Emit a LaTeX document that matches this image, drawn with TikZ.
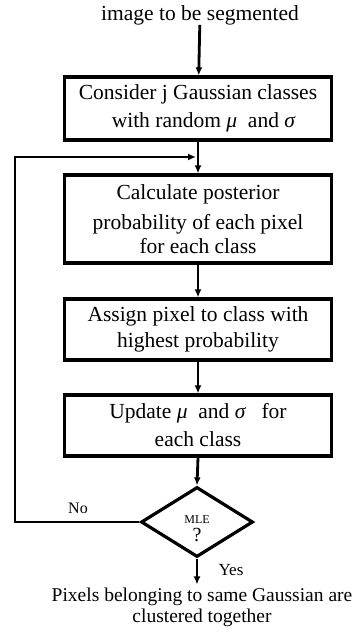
\documentclass[tikz,border=0pt]{standalone}
\usepackage{fontspec}
\setmainfont{Liberation Serif}
\usetikzlibrary{arrows.meta, shapes.geometric, positioning}

\begin{document}
\begin{tikzpicture}[
  x=1pt, y=1pt,
  stepbox/.style={draw, line width=3.2pt, minimum width=267pt, align=center,
    inner sep=0pt, font=\fontsize{21.5}{28}\selectfont},
  flow/.style={-{Latex[length=8pt,width=7pt]}, line width=2.8pt},
  txt/.style={align=center, inner sep=0pt},
]
  \useasboundingbox (0,0) rectangle (356,-634);

  % 输入
  \node[txt, font=\fontsize{21.5}{28}\selectfont] (title) at (200,-15) {image to be segmented};

  % 步骤框
  \node[stepbox, minimum height=63pt] (init) at (198,-108.5)
    {Consider j Gaussian classes\\ \ \ with random {\itshape μ}\ \ and {\itshape σ}};
  \node[stepbox, minimum height=88pt] (post) at (198,-219)
    {Calculate posterior\\[2pt] probability of each pixel\\[-4pt] for each class};
  \node[stepbox, minimum height=61pt] (assign) at (198,-329.5)
    {Assign pixel to class with\\[-2pt] highest probability};
  \node[stepbox, minimum height=61pt] (update) at (198,-425.5)
    {Update {\itshape μ}\ \ and {\itshape σ}\ \ \ for\\ each class};

  % 判断
  \node[diamond, draw, line width=3.2pt, minimum width=112pt, minimum height=70pt,
    inner sep=0pt] (mle) at (197,-522) {};
  \node[txt] (mletxt) at (197,-529)
    {{\fontsize{12}{12}\selectfont MLE}\\[4pt]{\fontsize{20}{20}\selectfont ?}};

  % 输出
  \node[txt, font=\fontsize{19.5}{21}\selectfont] (result) at (202,-607)
    {Pixels belonging\ to same Gaussian are\\ clustered together};

  % 循环回到第二步
  \coordinate (corner) at (15,-157);
  \coordinate (join) at (198,-157);

  % 连线
  \draw[flow] (title) -- (init);
  \draw[flow] (init) -- (post);
  \draw[flow] (post) -- (assign);
  \draw[flow] (assign) -- (update);
  \draw[flow] (update.south) -- (mle.north);
  \draw[flow, shorten >=2pt] (mle.west) -- (mle.west -| corner) -- (corner) -- (join);
  \draw[flow] (mle.south) -- ([yshift=3pt]mle.south |- result.north);

  \node[txt, font=\fontsize{16}{16}\selectfont] (no) at (78,-508) {No};
  \node[txt, font=\fontsize{17}{17}\selectfont] (yes) at (231,-570) {Yes};
\end{tikzpicture}
\end{document}
